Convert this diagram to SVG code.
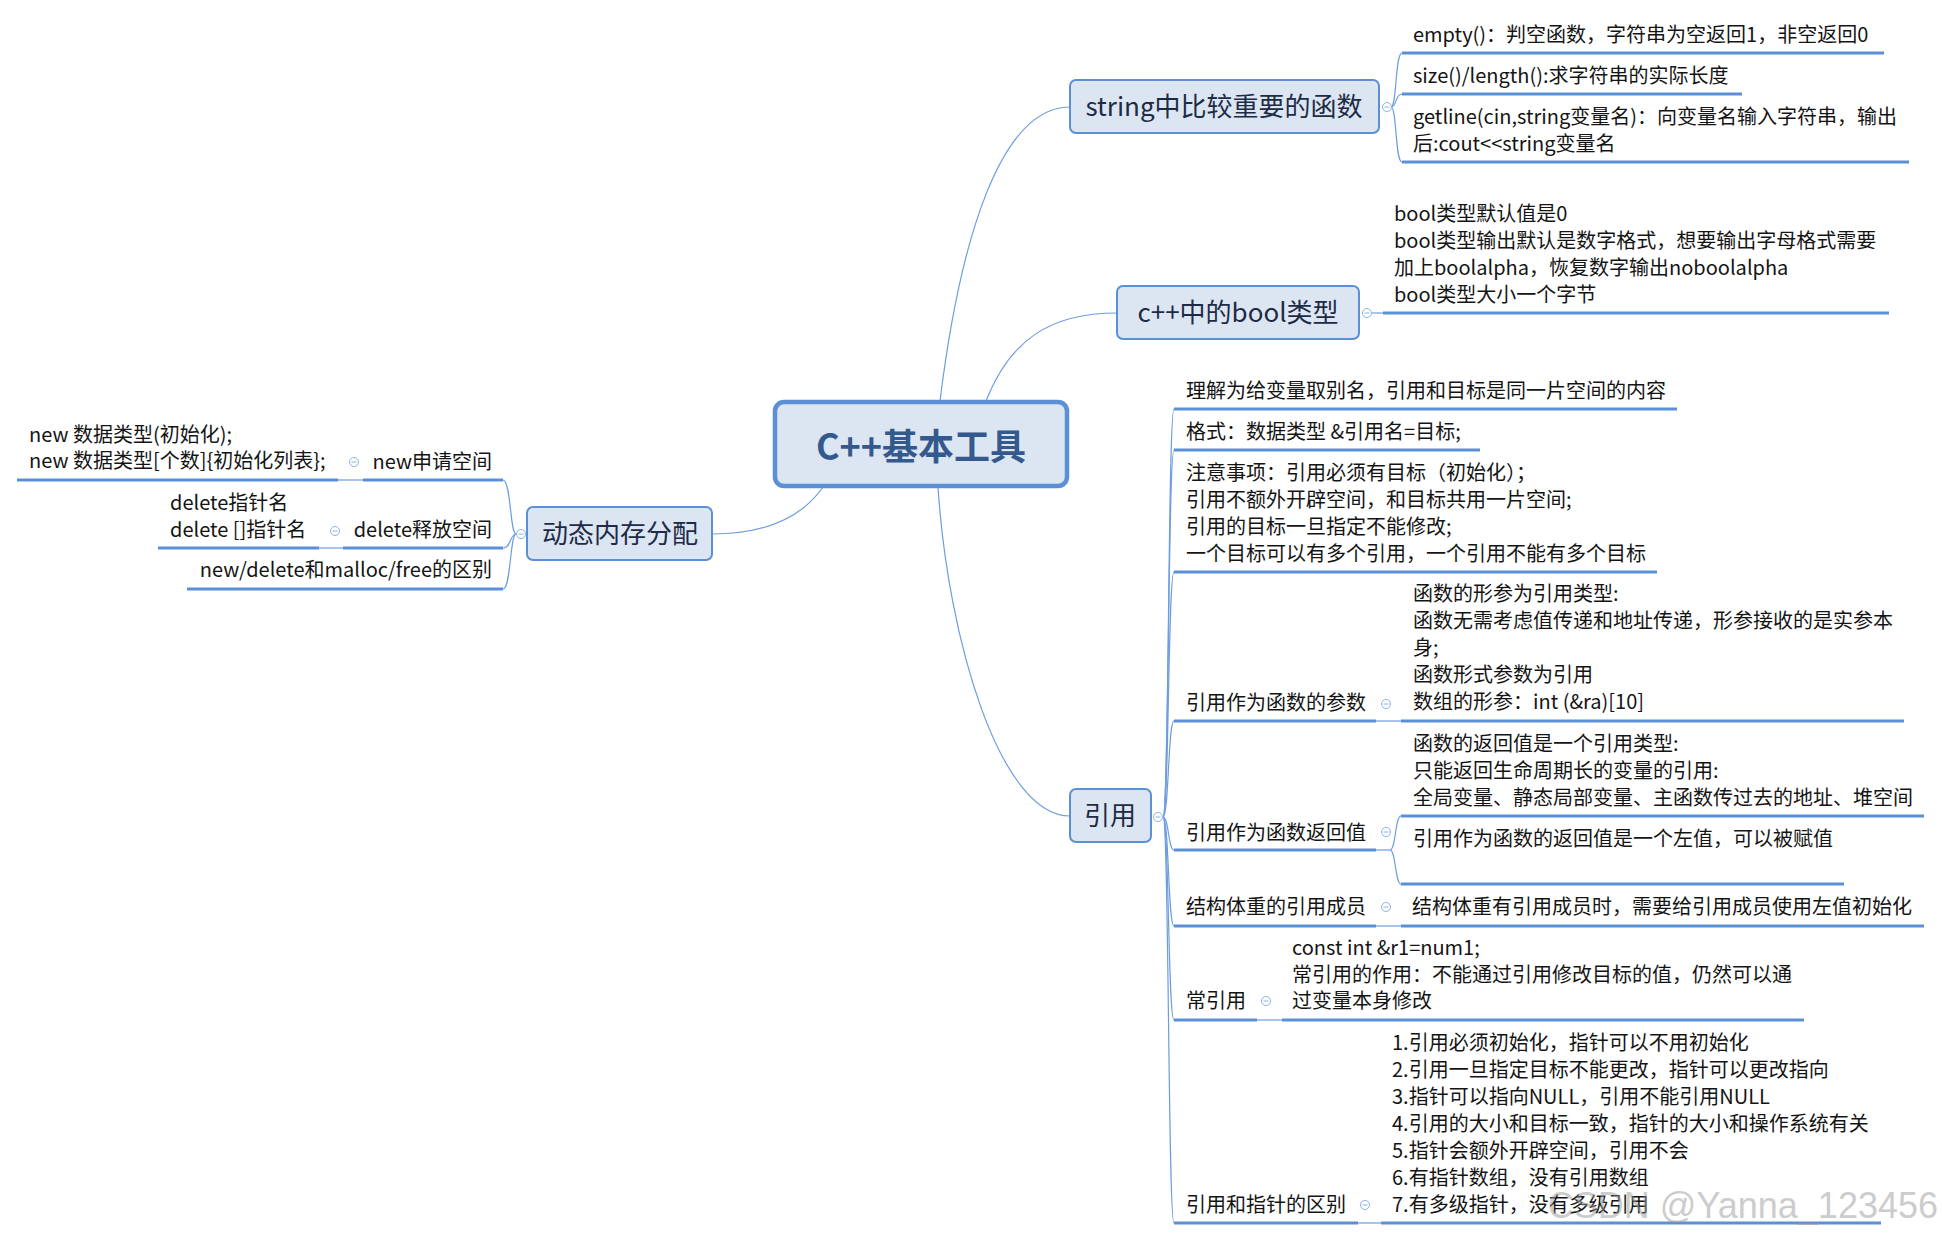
<svg xmlns="http://www.w3.org/2000/svg" xmlns:xlink="http://www.w3.org/1999/xlink" width="1942" height="1240" viewBox="0 0 1942 1240">
<style>
text{font-family:"Noto Sans CJK SC","Microsoft YaHei",sans-serif;}
.t{font-size:20px;fill:#141414;}
.r{text-anchor:end;}
.b{font-size:26px;fill:#1d2b45;text-anchor:middle;}
.c{font-size:36px;font-weight:bold;fill:#34598c;text-anchor:middle;}
.ul{stroke:#5b8fd6;stroke-width:3;fill:none;}
.ln{stroke:#6d9de0;stroke-width:1.2;fill:none;}
.nd{fill:#dce6f2;stroke:#5b8fd6;stroke-width:2;}
.cn{fill:#dce6f2;stroke:#5b8fd6;stroke-width:4.5;}
.wm{font-family:"Liberation Sans",sans-serif;font-size:36px;fill:#9a9a9a;opacity:0.5;text-anchor:end;}
</style>
<defs>
<g id="col"><circle r="4.5" fill="#fff" stroke="#8cb2e6" stroke-width="1"/><line x1="-2.5" y1="0" x2="2.5" y2="0" stroke="#8cb2e6" stroke-width="1"/></g>
</defs>
<rect width="1942" height="1240" fill="#fff"/>

<g id="connectors">
<path class="ln" d="M940 401 C960 240 1000 107 1070 107"/>
<path class="ln" d="M986 401 C1010 340 1050 313 1117 313"/>
<path class="ln" d="M938 487 C948 640 1000 816 1070 816"/>
<path class="ln" d="M823 487 C800 520 760 534 712 534"/>
<!-- string bracket -->
<path class="ln" d="M1391 107 C1397 107 1395 53 1402 53"/>
<path class="ln" d="M1391 107 C1397 107 1395 94 1402 94"/>
<path class="ln" d="M1391 107 C1397 107 1395 162 1402 162"/>
<!-- bool -->
<line class="ln" x1="1371" y1="313" x2="1383" y2="313"/>
<!-- 引用 bracket -->
<path class="ln" d="M1163 817 C1169 817 1168 409 1174 409"/>
<path class="ln" d="M1163 817 C1169 817 1168 450 1174 450"/>
<path class="ln" d="M1163 817 C1169 817 1168 572 1174 572"/>
<path class="ln" d="M1163 817 C1169 817 1168 721 1174 721"/>
<path class="ln" d="M1163 817 C1169 817 1168 850 1174 850"/>
<path class="ln" d="M1163 817 C1169 817 1168 926 1174 926"/>
<path class="ln" d="M1163 817 C1169 817 1168 1020 1174 1020"/>
<path class="ln" d="M1163 817 C1169 817 1168 1223 1174 1223"/>
<line class="ln" x1="1376" y1="721" x2="1401" y2="721"/>
<line class="ln" x1="1376" y1="850" x2="1390" y2="850"/>
<path class="ln" d="M1390 850 C1396 850 1395 816 1401 816"/>
<path class="ln" d="M1390 850 C1396 850 1395 884 1401 884"/>
<line class="ln" x1="1376" y1="926" x2="1401" y2="926"/>
<line class="ln" x1="1257" y1="1020" x2="1282" y2="1020"/>
<line class="ln" x1="1358" y1="1223" x2="1381" y2="1223"/>
<!-- left bracket -->
<path class="ln" d="M516 534 C510 534 511 480 503 480"/>
<path class="ln" d="M516 534 C510 534 511 548 503 548"/>
<path class="ln" d="M516 534 C510 534 511 589 503 589"/>
<line class="ln" x1="338" y1="480" x2="363" y2="480"/>
<line class="ln" x1="319" y1="548" x2="343" y2="548"/>
</g>

<g id="root">
<rect class="cn" x="775" y="402" width="292" height="84" rx="9"/>
<text class="c" x="921" y="460">C++基本工具</text>
</g>

<g id="n-string">
<rect class="nd" x="1070" y="80" width="309" height="53" rx="6"/>
<text class="b" x="1224" y="116">string中比较重要的函数</text>
<use xlink:href="#col" x="1387" y="107"/>
</g>
<g id="n-string-1">
<text class="t" x="1413" y="42">empty()：判空函数，字符串为空返回1，非空返回0</text>
<line class="ul" x1="1402" y1="53" x2="1884" y2="53"/>
</g>
<g id="n-string-2">
<text class="t" x="1413" y="83">size()/length():求字符串的实际长度</text>
<line class="ul" x1="1402" y1="94" x2="1742" y2="94"/>
</g>
<g id="n-string-3">
<text class="t" x="1413" y="124">getline(cin,string变量名)：向变量名输入字符串，输出</text>
<text class="t" x="1413" y="151">后:cout&lt;&lt;string变量名</text>
<line class="ul" x1="1402" y1="162" x2="1909" y2="162"/>
</g>

<g id="n-bool">
<rect class="nd" x="1117" y="286" width="242" height="53" rx="6"/>
<text class="b" x="1238" y="322">c++中的bool类型</text>
<use xlink:href="#col" x="1367" y="313"/>
</g>
<g id="n-bool-1">
<text class="t" x="1394" y="221">bool类型默认值是0</text>
<text class="t" x="1394" y="248">bool类型输出默认是数字格式，想要输出字母格式需要</text>
<text class="t" x="1394" y="275">加上boolalpha，恢复数字输出noboolalpha</text>
<text class="t" x="1394" y="302">bool类型大小一个字节</text>
<line class="ul" x1="1383" y1="313" x2="1889" y2="313"/>
</g>

<g id="n-ref">
<rect class="nd" x="1070" y="789" width="81" height="53" rx="6"/>
<text class="b" x="1110" y="825">引用</text>
<use xlink:href="#col" x="1158" y="817"/>
</g>
<g id="n-ref-1">
<text class="t" x="1186" y="398">理解为给变量取别名，引用和目标是同一片空间的内容</text>
<line class="ul" x1="1174" y1="409" x2="1677" y2="409"/>
</g>
<g id="n-ref-2">
<text class="t" x="1186" y="439">格式：数据类型 &amp;引用名=目标;</text>
<line class="ul" x1="1174" y1="450" x2="1480" y2="450"/>
</g>
<g id="n-ref-3">
<text class="t" x="1186" y="480">注意事项：引用必须有目标（初始化）；</text>
<text class="t" x="1186" y="507">引用不额外开辟空间，和目标共用一片空间;</text>
<text class="t" x="1186" y="534">引用的目标一旦指定不能修改;</text>
<text class="t" x="1186" y="561">一个目标可以有多个引用，一个引用不能有多个目标</text>
<line class="ul" x1="1174" y1="572" x2="1657" y2="572"/>
</g>
<g id="n-ref-4">
<text class="t" x="1186" y="710">引用作为函数的参数</text>
<line class="ul" x1="1174" y1="721" x2="1376" y2="721"/>
<use xlink:href="#col" x="1386" y="704"/>
</g>
<g id="n-ref-4-1">
<text class="t" x="1413" y="601">函数的形参为引用类型:</text>
<text class="t" x="1413" y="628">函数无需考虑值传递和地址传递，形参接收的是实参本</text>
<text class="t" x="1413" y="655">身;</text>
<text class="t" x="1413" y="682">函数形式参数为引用</text>
<text class="t" x="1413" y="709">数组的形参：int (&amp;ra)[10]</text>
<line class="ul" x1="1401" y1="721" x2="1904" y2="721"/>
</g>
<g id="n-ref-5">
<text class="t" x="1186" y="840">引用作为函数返回值</text>
<line class="ul" x1="1174" y1="850" x2="1376" y2="850"/>
<use xlink:href="#col" x="1386" y="832"/>
</g>
<g id="n-ref-5-1">
<text class="t" x="1413" y="751">函数的返回值是一个引用类型:</text>
<text class="t" x="1413" y="778">只能返回生命周期长的变量的引用:</text>
<text class="t" x="1413" y="805">全局变量、静态局部变量、主函数传过去的地址、堆空间</text>
<line class="ul" x1="1401" y1="816" x2="1924" y2="816"/>
</g>
<g id="n-ref-5-2">
<text class="t" x="1413" y="846">引用作为函数的返回值是一个左值，可以被赋值</text>
<line class="ul" x1="1401" y1="884" x2="1844" y2="884"/>
</g>
<g id="n-ref-6">
<text class="t" x="1186" y="914">结构体重的引用成员</text>
<line class="ul" x1="1174" y1="926" x2="1376" y2="926"/>
<use xlink:href="#col" x="1386" y="907"/>
</g>
<g id="n-ref-6-1">
<text class="t" x="1412" y="914">结构体重有引用成员时，需要给引用成员使用左值初始化</text>
<line class="ul" x1="1401" y1="926" x2="1924" y2="926"/>
</g>
<g id="n-ref-7">
<text class="t" x="1186" y="1008">常引用</text>
<line class="ul" x1="1174" y1="1020" x2="1257" y2="1020"/>
<use xlink:href="#col" x="1266" y="1001"/>
</g>
<g id="n-ref-7-1">
<text class="t" x="1292" y="955">const int &amp;r1=num1;</text>
<text class="t" x="1292" y="982">常引用的作用：不能通过引用修改目标的值，仍然可以通</text>
<text class="t" x="1292" y="1008">过变量本身修改</text>
<line class="ul" x1="1282" y1="1020" x2="1804" y2="1020"/>
</g>
<g id="n-ref-8">
<text class="t" x="1186" y="1212">引用和指针的区别</text>
<line class="ul" x1="1174" y1="1223" x2="1358" y2="1223"/>
<use xlink:href="#col" x="1365" y="1205"/>
</g>
<g id="n-ref-8-1">
<text class="t" x="1392" y="1050">1.引用必须初始化，指针可以不用初始化</text>
<text class="t" x="1392" y="1077">2.引用一旦指定目标不能更改，指针可以更改指向</text>
<text class="t" x="1392" y="1104">3.指针可以指向NULL，引用不能引用NULL</text>
<text class="t" x="1392" y="1131">4.引用的大小和目标一致，指针的大小和操作系统有关</text>
<text class="t" x="1392" y="1158">5.指针会额外开辟空间，引用不会</text>
<text class="t" x="1392" y="1185">6.有指针数组，没有引用数组</text>
<text class="t" x="1392" y="1212">7.有多级指针，没有多级引用</text>
<line class="ul" x1="1381" y1="1223" x2="1881" y2="1223"/>
</g>

<g id="n-mem">
<rect class="nd" x="527" y="507" width="185" height="53" rx="6"/>
<text class="b" x="620" y="543">动态内存分配</text>
<use xlink:href="#col" x="521" y="534"/>
</g>
<g id="n-mem-1">
<text class="t r" x="492" y="469">new申请空间</text>
<line class="ul" x1="363" y1="480" x2="503" y2="480"/>
<use xlink:href="#col" x="354" y="462"/>
</g>
<g id="n-mem-1-1">
<text class="t" x="29" y="442">new 数据类型(初始化);</text>
<text class="t" x="29" y="468">new 数据类型[个数]{初始化列表};</text>
<line class="ul" x1="17" y1="480" x2="338" y2="480"/>
</g>
<g id="n-mem-2">
<text class="t r" x="492" y="537">delete释放空间</text>
<line class="ul" x1="343" y1="548" x2="503" y2="548"/>
<use xlink:href="#col" x="335" y="531"/>
</g>
<g id="n-mem-2-1">
<text class="t" x="170" y="510">delete指针名</text>
<text class="t" x="170" y="537">delete []指针名</text>
<line class="ul" x1="158" y1="548" x2="319" y2="548"/>
</g>
<g id="n-mem-3">
<text class="t r" x="492" y="577">new/delete和malloc/free的区别</text>
<line class="ul" x1="187" y1="589" x2="503" y2="589"/>
</g>

<text class="wm" x="1938" y="1218">CSDN @Yanna_123456</text>
</svg>
